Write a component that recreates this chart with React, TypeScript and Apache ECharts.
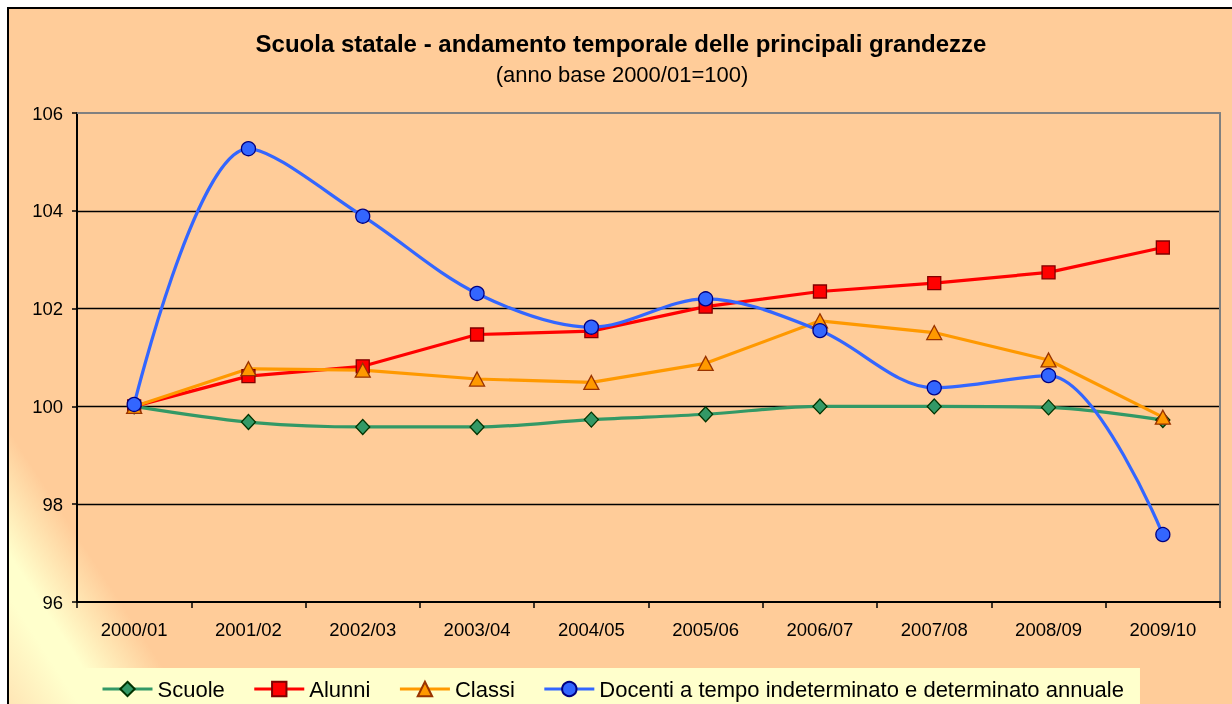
import React, { useEffect, useRef } from "react";
import * as echarts from "echarts";

const categories = ["2000/01", "2001/02", "2002/03", "2003/04", "2004/05", "2005/06", "2006/07", "2007/08", "2008/09", "2009/10"];
const scuole = [100, 99.68, 99.58, 99.58, 99.73, 99.84, 100.0, 100.0, 99.98, 99.72];
const alunni = [100, 100.62, 100.82, 101.47, 101.54, 102.04, 102.35, 102.52, 102.74, 103.25];
const classi = [100, 100.77, 100.74, 100.56, 100.49, 100.88, 101.75, 101.51, 100.95, 99.78];
const docenti = [100.04, 105.27, 103.89, 102.31, 101.62, 102.2, 101.55, 100.38, 100.63, 97.38];
const yTicks = { min: 96, max: 106, interval: 2 };

const titleText = "Scuola statale - andamento temporale delle principali grandezze";
const subtitleText = "(anno base 2000/01=100)";
const FONT = "'Liberation Sans', Arial, Helvetica, sans-serif";

export default function App() {
  const ref = useRef<HTMLDivElement>(null);
  useEffect(() => {
    if (!ref.current) return;
    const chart = echarts.init(ref.current, null, { renderer: "svg" });
    const bgGrad = new echarts.graphic.LinearGradient(
      -116, 652, 73, 529,
      [
        { offset: 0, color: "#FFCC99" },
        { offset: 0.3, color: "#FFE2B2" },
        { offset: 0.6, color: "#FFFFCC" },
        { offset: 0.7, color: "#FFFFCC" },
        { offset: 1, color: "#FFCC99" },
      ],
      true
    );
    const mk = (name: string, data: number[], color: string, border: string, symbol: string, size: any, smooth: any) => ({
      name,
      type: "line",
      data,
      smooth,
      symbol,
      symbolSize: size,
      showSymbol: true,
      lineStyle: { color, width: 3.2 },
      itemStyle: { color, borderColor: border, borderWidth: 1.3 },
      emphasis: { disabled: true },
    });
    chart.setOption({
      animation: false,
      backgroundColor: "transparent",
      textStyle: { fontFamily: FONT },
      graphic: [
        {
          type: "rect",
          z: -100,
          silent: true,
          shape: { x: 9, y: 9, width: 1223, height: 695 },
          style: { fill: bgGrad },
        },
        {
          type: "polyline",
          z: -50,
          silent: true,
          shape: { points: [[8, 704], [8, 8], [1232, 8]] },
          style: { stroke: "#000", lineWidth: 2, fill: null },
        },
        {
          type: "text",
          x: 621,
          y: 43,
          style: {
            text: titleText,
            font: `bold 24px ${FONT}`,
            fill: "#000",
            textAlign: "center",
            textVerticalAlign: "middle",
          },
        },
        {
          type: "text",
          x: 622,
          y: 74,
          style: {
            text: subtitleText,
            font: `22px ${FONT}`,
            fill: "#000",
            textAlign: "center",
            textVerticalAlign: "middle",
          },
        },
      ],
      grid: { left: 77, right: 12, top: 113, bottom: 102, containLabel: false, outerBoundsMode: "none" },
      legend: {
        left: 86,
        top: 668,
        padding: [10, 16, 12, 15],
        backgroundColor: "#FFFFCC",
        itemWidth: 50,
        itemHeight: 18,
        itemGap: 28,
        lineStyle: { width: 3 },
        textStyle: { fontSize: 22, color: "#000", fontFamily: FONT },
        data: ["Scuole", "Alunni", "Classi", "Docenti a tempo indeterminato e determinato annuale"],
      },
      xAxis: [
        {
          type: "category",
          data: categories,
          boundaryGap: true,
          axisLine: { show: true, lineStyle: { color: "#000", width: 2 } },
          axisTick: { show: true, length: 6, interval: 0, lineStyle: { color: "#000", width: 1.5 } },
          axisLabel: { color: "#000", fontSize: 18.5, margin: 18, interval: 0, fontFamily: FONT },
          splitLine: { show: false },
        },
        {
          type: "category",
          data: categories,
          position: "top",
          axisLine: { show: true, lineStyle: { color: "#808080", width: 2 } },
          axisTick: { show: false },
          axisLabel: { show: false },
          splitLine: { show: false },
        },
      ],
      yAxis: [
        {
          type: "value",
          min: yTicks.min,
          max: yTicks.max,
          interval: yTicks.interval,
          axisLine: { show: true, lineStyle: { color: "#000", width: 2 } },
          axisTick: { show: true, length: 5, lineStyle: { color: "#000", width: 1.5 } },
          axisLabel: { color: "#000", fontSize: 18.5, margin: 14, fontFamily: FONT },
          splitLine: { show: true, showMinLine: false, showMaxLine: false, lineStyle: { color: "#000", width: 1.4 } },
        },
        {
          type: "value",
          min: yTicks.min,
          max: yTicks.max,
          interval: yTicks.interval,
          position: "right",
          axisLine: { show: true, lineStyle: { color: "#808080", width: 2 } },
          axisTick: { show: false },
          axisLabel: { show: false },
          splitLine: { show: false },
        },
      ],
      series: [
        mk("Scuole", scuole, "#339966", "#003300", "diamond", [14, 15], 0.33),
        mk("Alunni", alunni, "#FF0000", "#800000", "rect", 13, false),
        mk("Classi", classi, "#FF9900", "#993300", "triangle", [15, 14], false),
        mk("Docenti a tempo indeterminato e determinato annuale", docenti, "#3366FF", "#000080", "circle", 14, 0.33),
      ],
    });
    return () => chart.dispose();
  }, []);
  return <div ref={ref} style={{ position: "fixed", left: 0, top: 0, width: 1232, height: 704 }} />;
}
